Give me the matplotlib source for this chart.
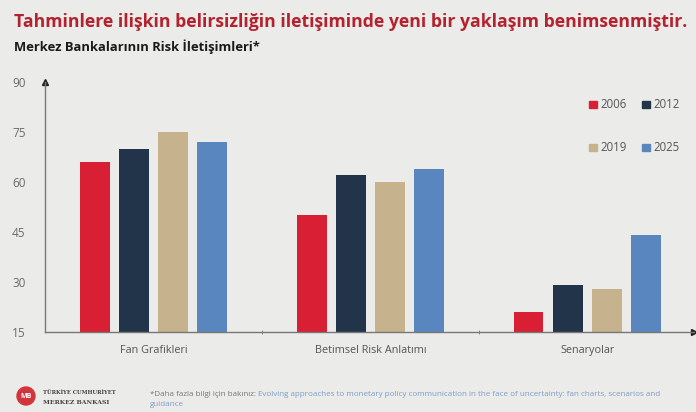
import numpy as np
import matplotlib.pyplot as plt
from matplotlib.patches import Ellipse

# Data
categories = ['Fan Grafikleri', 'Betimsel Risk Anlatımı', 'Senaryolar']
years = ['2006', '2012', '2019', '2025']
values_2006 = [66, 50, 21]
values_2012 = [70, 62, 29]
values_2019 = [75, 60, 28]
values_2025 = [72, 64, 44]
y_ticks = [15, 30, 45, 60, 75, 90]

series = [values_2006, values_2012, values_2019, values_2025]
colors = ['#D81F34', '#22344A', '#C6B28C', '#5A86C0']
bg = '#EBEBE9'

plt.rcParams['font.family'] = ['Open Sans', 'DejaVu Sans']

fig = plt.figure(figsize=(6.96, 4.12), dpi=100, facecolor=bg)
ax = fig.add_axes([0.0647, 0.194, 0.932, 0.607], facecolor=bg)

x = np.arange(len(categories))
width = 0.138
pitch = 0.181
for i, (vals, col) in enumerate(zip(series, colors)):
    ax.bar(x + (i - 1.5) * pitch, np.array(vals) - 15, width, bottom=15,
           color=col, label=years[i], zorder=2)

ax.set_xlim(-0.5, 2.49)
ax.set_ylim(15, 90)
ax.set_yticks(y_ticks)
ax.set_yticklabels([str(t) for t in y_ticks], color='#6B6B6B', fontsize=8.5)
ax.tick_params(axis='y', length=0, pad=14)

ax.set_xticks(x)
ax.set_xticklabels(categories, color='#555555', fontsize=7.8)
ax.tick_params(axis='x', length=0, pad=9)
ax.set_xticks([0.5, 1.5], minor=True)
ax.tick_params(axis='x', which='minor', length=3, direction='inout', color='#777777')

for s in ['top', 'right']:
    ax.spines[s].set_visible(False)
for s in ['left', 'bottom']:
    ax.spines[s].set_color('#777777')
    ax.spines[s].set_linewidth(1.0)

# arrow heads on the axes
ax.plot(0, 1.0, marker='^', color='#222222', markersize=4,
        transform=ax.transAxes, clip_on=False)
ax.plot(1.0, 0, marker='>', color='#222222', markersize=4,
        transform=ax.transAxes, clip_on=False)

# legend, laid out as in the reference (2 x 2)
leg_pos = [(597, 103), (650, 103), (597, 146), (650, 146)]
for (px, py), yr, col in zip(leg_pos, years, colors):
    fx, fy = px / 696, 1 - py / 412
    fig.patches.append(plt.Rectangle((fx - 0.011, fy - 0.012), 0.0105, 0.0175,
                                     color=col, transform=fig.transFigure))
    fig.text(fx + 0.005, fy - 0.003, yr, color='#555555', fontsize=8.3, va='center')

# titles
fig.text(14 / 696, 1 - 22 / 412,
         'Tahminlere ilişkin belirsizliğin iletişiminde yeni bir yaklaşım benimsenmiştir.',
         color='#B3222E', fontsize=12.7, fontweight='bold', va='center')
fig.text(14 / 696, 1 - 47 / 412, 'Merkez Bankalarının Risk İletişimleri*',
         color='#1A1A1A', fontsize=9.4, fontweight='bold', va='center')

# footer: logo and source note
fig.patches.append(Ellipse((26 / 696, 1 - 396 / 412), 18 / 696, 18 / 412,
                           color='#D2343C', transform=fig.transFigure))
fig.text(26 / 696, 1 - 397 / 412, 'MB', color='white', fontsize=5,
         fontweight='bold', ha='center', va='center')
fig.text(43 / 696, 1 - 393 / 412, 'TÜRKİYE CUMHURİYET', color='#444444',
         fontsize=3.8, fontweight='bold', va='center', family='DejaVu Serif')
fig.text(43 / 696, 1 - 402 / 412, 'MERKEZ BANKASI', color='#444444',
         fontsize=4.4, fontweight='bold', va='center', family='DejaVu Serif')

prefix = fig.text(150 / 696, 1 - 395 / 412, '*Daha fazla bilgi için bakınız: ',
                  color='#777777', fontsize=5.8, va='center')
fig.canvas.draw()
bb = prefix.get_window_extent().transformed(fig.transFigure.inverted())
fig.text(bb.x1, 1 - 395 / 412,
         'Evolving approaches to monetary policy communication in the face of uncertainty: '
         'fan charts, scenarios and',
         color='#7D9CC8', fontsize=5.8, va='center')
fig.text(150 / 696, 1 - 404 / 412, 'guidance', color='#7D9CC8', fontsize=5.8, va='center')

fig.savefig('out.png', dpi=100, facecolor=bg)
